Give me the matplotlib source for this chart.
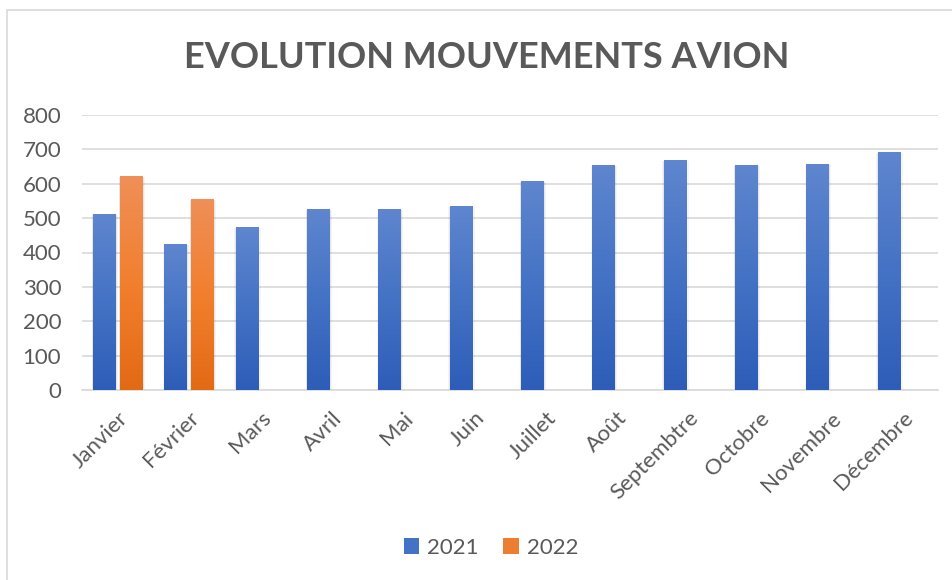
import numpy as np
import matplotlib
matplotlib.use("Agg")
import matplotlib.pyplot as plt
from matplotlib.colors import LinearSegmentedColormap
from matplotlib.patches import Rectangle

plt.rcParams["font.family"] = ["Lato", "DejaVu Sans"]

# ---------------------------------------------------------------------------
# Data
# ---------------------------------------------------------------------------
months = ["Janvier", "Février", "Mars", "Avril", "Mai", "Juin", "Juillet",
          "Août", "Septembtre", "Octobre", "Novembre", "Décembre"]
mvts_2021 = [512, 425, 474, 527, 527, 535, 608, 655, 669, 655, 657, 692]
mvts_2022 = [622, 556]  # only Jan / Feb available

TEXT = "#595959"
GRID = "#D9D9D9"

blue_cmap = LinearSegmentedColormap.from_list("blue", ["#2E5DB9", "#4472C4", "#5F86CF"])
orange_cmap = LinearSegmentedColormap.from_list("orange", ["#E36A15", "#F27F2E", "#EF8F58"])


def gradient_bars(ax, bars, cmap):
    grad = np.linspace(0, 1, 256).reshape(-1, 1)
    for b in bars:
        x0, y0 = b.get_x(), b.get_y()
        w, h = b.get_width(), b.get_height()
        # soft shadow around the bar
        for k, a in ((0.03, 0.04), (0.015, 0.06)):
            ax.add_patch(Rectangle((x0 - k * 0.5, y0), w + k * 1.5, h - 2,
                                   color="#000000", alpha=a, lw=0, zorder=2))
        im = ax.imshow(grad, cmap=cmap, origin="lower", aspect="auto",
                       extent=(x0, x0 + w, y0, y0 + h), zorder=3)
        im.set_clip_path(b)
        b.set_facecolor("none")


fig = plt.figure(figsize=(9.53, 5.80), dpi=100)

# chart frame
fig.patches.append(Rectangle((7 / 953, -0.1), 2, 1 - 10 / 580 + 0.1,
                             transform=fig.transFigure, fill=False,
                             edgecolor="#D9D9D9", lw=1.2))

ax = fig.add_axes([82 / 953, 1 - 390 / 580, (938 - 82) / 953, (390 - 115) / 580])

x = np.arange(len(months))
w = 0.32
gap = 0.055
b21 = ax.bar(x - (w + gap) / 2, mvts_2021, width=w, color="#4472C4", zorder=3, label="2021")
b22 = ax.bar(x[:len(mvts_2022)] + (w + gap) / 2, mvts_2022, width=w, color="#ED7D31",
             zorder=3, label="2022")
gradient_bars(ax, b21, blue_cmap)
gradient_bars(ax, b22, orange_cmap)

ax.set_xlim(-0.5, len(months) - 0.5)
ax.set_ylim(0, 800)
ax.set_yticks(range(0, 801, 100))
ax.yaxis.grid(True, color=GRID, lw=1.2, zorder=0)
ax.set_axisbelow(True)
for s in ["top", "right", "left"]:
    ax.spines[s].set_visible(False)
ax.spines["bottom"].set_color(GRID)
ax.spines["bottom"].set_linewidth(1.2)
ax.tick_params(axis="both", length=0, colors=TEXT, labelsize=16)
ax.tick_params(axis="y", pad=15)
ax.set_xticks(x)
ax.set_xticklabels(months, rotation=45, ha="right", va="top",
                   rotation_mode="anchor", fontsize=16)
ax.tick_params(axis="x", pad=13)

fig.text(487 / 953, 1 - 57 / 580, "EVOLUTION MOUVEMENTS AVION", ha="center",
         va="center", fontsize=26, fontweight="bold", color=TEXT)

# legend
h1 = Rectangle((0, 0), 1, 1, facecolor="#4472C4")
h2 = Rectangle((0, 0), 1, 1, facecolor="#ED7D31")
fig.legend([h1, h2], ["2021", "2022"], loc="center", bbox_to_anchor=(491 / 953, 1 - 548 / 580),
           ncol=2, frameon=False, fontsize=16, labelcolor=TEXT, handlelength=0.7,
           handleheight=0.7, handletextpad=0.35, columnspacing=1.1)

fig.savefig("out.png", dpi=100)
